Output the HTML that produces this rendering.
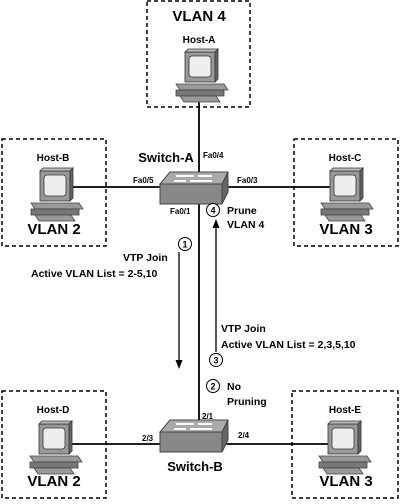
<!DOCTYPE html>
<html><head><style>
body{margin:0;background:#fff}
svg{display:block;font-family:"Liberation Sans",Arial,sans-serif;font-weight:bold}
</style></head><body>
<svg width="400" height="504" viewBox="0 0 400 504">
<defs>
<g id="pc">
  <polygon points="-24,8 24,8 28,14 -20,14" fill="#999" stroke="#444" stroke-width="0.8"/>
  <rect x="-24" y="14" width="48" height="6" fill="#777" stroke="#444" stroke-width="0.8"/>
  <polygon points="-20,20 16,20 20,26 -16,26" fill="#999" stroke="#444" stroke-width="0.8"/>
  <rect x="-15" y="-24" width="30" height="30" fill="#999" stroke="#333" stroke-width="0.8"/>
  <rect x="-11" y="-20" width="22" height="21" rx="3" fill="#eee" stroke="#333" stroke-width="0.8"/>
  <polygon points="-15,-24 -12,-27 18,-27 15,-24" fill="#bbb" stroke="#333" stroke-width="0.8"/>
  <polygon points="15,-24 18,-27 18,3 15,6" fill="#666" stroke="#333" stroke-width="0.8"/>
</g>
<g id="sw">
  <polygon points="-34,0 -24,-12 34,-12 34,0" fill="#aaa" stroke="#444"/>
  <rect x="-34" y="0" width="62" height="20" fill="#888" stroke="#444"/>
  <polygon points="28,0 34,-12 34,8 28,20" fill="#666" stroke="#444"/>
  <path d="M-18,-8 h18 M-4,-3 h22 M-20,-3 h12 M4,-8 h14" stroke="#fff" stroke-width="2"/>
</g>
</defs>
<g fill="none" stroke="#000" stroke-width="1.5" stroke-dasharray="4,3">
  <rect x="147" y="1" width="103" height="106"/>
  <rect x="2" y="139" width="104" height="107"/>
  <rect x="294" y="139" width="104" height="107"/>
  <rect x="2" y="391" width="104" height="107"/>
  <rect x="292" y="391" width="106" height="107"/>
</g>
<g stroke="#000" stroke-width="1.8">
  <line x1="199" y1="92" x2="199" y2="430"/>
  <line x1="72" y1="187" x2="330" y2="187"/>
  <line x1="70" y1="444" x2="330" y2="444"/>
</g>
<g stroke="#000" stroke-width="1.3">
  <line x1="179" y1="252" x2="179" y2="362"/>
  <line x1="216" y1="352" x2="216" y2="226"/>
</g>
<polygon points="175.5,360 182.5,360 179,369" fill="#000"/>
<polygon points="212.5,228 219.5,228 216,219" fill="#000"/>
<use href="#pc" x="200" y="76"/>
<use href="#pc" x="55" y="195"/>
<use href="#pc" x="345" y="195"/>
<use href="#pc" x="54" y="448"/>
<use href="#pc" x="343" y="448"/>
<use href="#sw" x="194" y="184"/>
<use href="#sw" x="194" y="432"/>
<g fill="#fff" stroke="#000" stroke-width="1">
  <circle cx="185" cy="244" r="6.5"/>
  <circle cx="213" cy="210" r="6.5"/>
  <circle cx="216" cy="360" r="6.5"/>
  <circle cx="213" cy="386" r="6.5"/>
</g>
<g font-size="9" text-anchor="middle">
  <text x="185" y="247.5">1</text><text x="213" y="213.5">4</text>
  <text x="216" y="363.5">3</text><text x="213" y="389.5">2</text>
</g>
<g font-size="15" text-anchor="middle">
  <text x="199" y="21">VLAN 4</text>
  <text x="54" y="234">VLAN 2</text>
  <text x="346" y="234">VLAN 3</text>
  <text x="54" y="486">VLAN 2</text>
  <text x="346" y="486">VLAN 3</text>
  <text x="166" y="162" font-size="13">Switch-A</text>
  <text x="195" y="471" font-size="13">Switch-B</text>
</g>
<g font-size="10" text-anchor="middle">
  <text x="199" y="43">Host-A</text>
  <text x="53" y="161">Host-B</text>
  <text x="345" y="161">Host-C</text>
  <text x="53" y="413">Host-D</text>
  <text x="345" y="413">Host-E</text>
</g>
<g font-size="8">
  <text x="203" y="158">Fa0/4</text>
  <text x="133" y="183">Fa0/5</text>
  <text x="237" y="183">Fa0/3</text>
  <text x="170" y="214">Fa0/1</text>
  <text x="202" y="419">2/1</text>
  <text x="142" y="441">2/3</text>
  <text x="238" y="438">2/4</text>
</g>
<g font-size="10.5">
  <text x="227" y="214">Prune</text>
  <text x="227" y="228">VLAN 4</text>
  <text x="123" y="261">VTP Join</text>
  <text x="31" y="277" font-size="10.5">Active VLAN List = 2-5,10</text>
  <text x="221" y="332">VTP Join</text>
  <text x="221" y="348" font-size="10.5">Active VLAN List = 2,3,5,10</text>
  <text x="227" y="390">No</text>
  <text x="227" y="405">Pruning</text>
</g>
</svg>
</body></html>
